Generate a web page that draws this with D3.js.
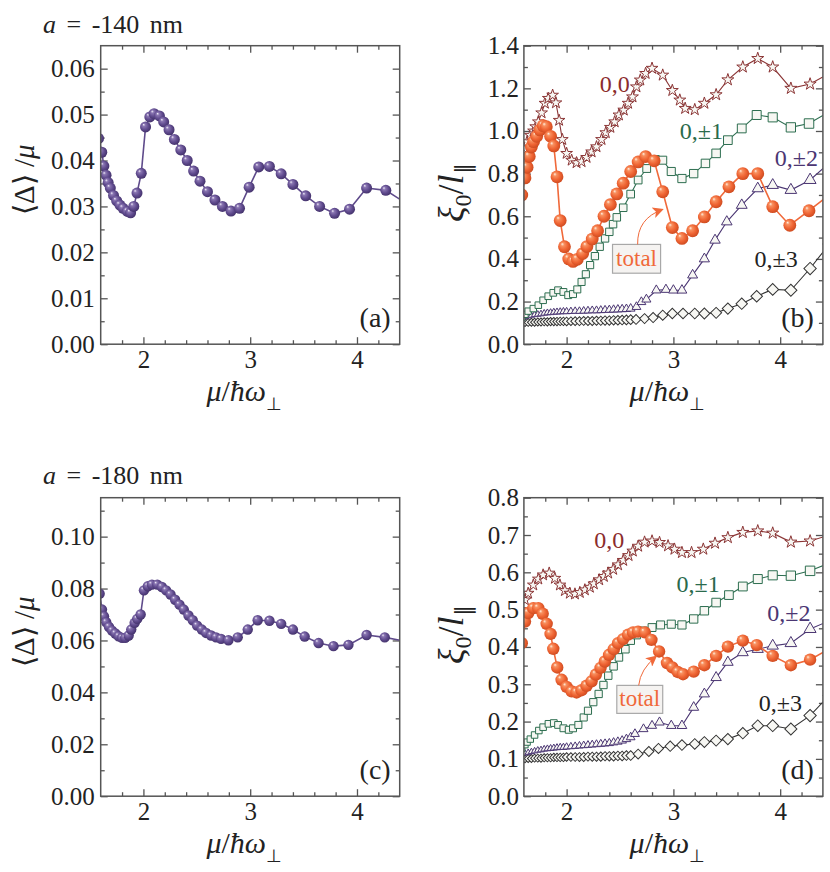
<!DOCTYPE html>
<html>
<head>
<meta charset="utf-8">
<script src="https://cdn.jsdelivr.net/npm/d3@7"></script>
<style>
  body { margin: 0; background: #fff; }
  svg text { font-family: "Liberation Serif", "Times New Roman", serif; fill: #222; }
</style>
</head>
<body>
<svg id="fig" width="830" height="872"></svg>
<script>
'use strict';

// ---- data ---------------------------------------------------------------

// axis ticks
var xMajor = [2, 3, 4];
var yMajorA = [0, 0.01, 0.02, 0.03, 0.04, 0.05, 0.06];
var yMajorB = [0, 0.2, 0.4, 0.6, 0.8, 1.0, 1.2, 1.4];
var yMajorC = [0, 0.02, 0.04, 0.06, 0.08, 0.10];
var yMajorD = [0, 0.1, 0.2, 0.3, 0.4, 0.5, 0.6, 0.7, 0.8];

// panel (a): a = -140 nm, gap
var muA = [1.58, 1.61, 1.63, 1.65, 1.67, 1.69, 1.72, 1.75, 1.78, 1.81,
           1.85, 1.88, 1.91, 1.94, 1.98, 2.02, 2.06, 2.10, 2.15, 2.19,
           2.24, 2.29, 2.35, 2.41, 2.47, 2.53, 2.60, 2.67, 2.74, 2.82,
           2.90, 2.99, 3.08, 3.18, 3.29, 3.40, 3.52, 3.65, 3.79, 3.93,
           4.09, 4.27, 4.46];
var gapA = [0.0448, 0.0418, 0.0388, 0.0368, 0.0352, 0.0340, 0.0324, 0.0312, 0.0303, 0.0296,
            0.0289, 0.0286, 0.0300, 0.0329, 0.0372, 0.0473, 0.0495, 0.0502, 0.0497, 0.0484,
            0.0467, 0.0446, 0.0423, 0.0400, 0.0377, 0.0355, 0.0332, 0.0314, 0.0300, 0.0290,
            0.0296, 0.0342, 0.0386, 0.0387, 0.0371, 0.0348, 0.0323, 0.0300, 0.0285, 0.0294,
            0.0340, 0.0335, 0.0307];

// panel (b): a = -140 nm, coherence length
var totalB = [0.70, 0.78, 0.83, 0.88, 0.925, 0.95, 0.975, 1.005, 1.025, 1.02,
              0.975, 0.93, 0.785, 0.58, 0.457, 0.40, 0.388, 0.398, 0.425, 0.458,
              0.493, 0.532, 0.60, 0.655, 0.705, 0.755, 0.81, 0.855, 0.88, 0.86,
              0.715, 0.547, 0.496, 0.532, 0.597, 0.668, 0.738, 0.80, 0.80, 0.645,
              0.558, 0.626, 0.70];

var muStarB = [1.57, 1.60, 1.63, 1.66, 1.69, 1.71, 1.735, 1.766, 1.797, 1.828,
               1.869, 1.90, 1.93, 1.96, 2.0, 2.047, 2.093, 2.14, 2.187, 2.234,
               2.28, 2.327, 2.367, 2.41, 2.45, 2.49, 2.535, 2.576, 2.617, 2.654,
               2.69, 2.74, 2.8, 2.9, 2.99, 3.06, 3.11, 3.2, 3.29, 3.4,
               3.51, 3.65, 3.79, 3.93, 4.1, 4.28, 4.46];
var band00B = [0.88, 0.92, 0.95, 0.98, 1.0, 1.02, 1.043, 1.085, 1.13, 1.153,
               1.168, 1.132, 1.05, 0.96, 0.895, 0.863, 0.851, 0.856, 0.876, 0.902,
               0.926, 0.96, 0.992, 1.017, 1.043, 1.075, 1.098, 1.13, 1.16, 1.207,
               1.239, 1.27, 1.294, 1.262, 1.19, 1.145, 1.106, 1.10, 1.13, 1.17,
               1.24, 1.30, 1.34, 1.30, 1.20, 1.22, 1.27];

var muSquareB = [1.58, 1.61, 1.64, 1.688, 1.735, 1.78, 1.828, 1.875, 1.92, 1.97,
                 2.015, 2.06, 2.1, 2.14, 2.18, 2.22, 2.265, 2.31, 2.36, 2.4,
                 2.435, 2.47, 2.53, 2.6, 2.67, 2.75, 2.83, 2.9, 2.98, 3.08,
                 3.19, 3.3, 3.4, 3.51, 3.64, 3.78, 3.93, 4.1, 4.27, 4.46];
var band01B = [0.125, 0.14, 0.155, 0.167, 0.183, 0.206, 0.225, 0.241, 0.253, 0.245,
               0.23, 0.235, 0.257, 0.292, 0.328, 0.371, 0.413, 0.457, 0.496, 0.527,
               0.563, 0.595, 0.64, 0.704, 0.77, 0.824, 0.866, 0.863, 0.81, 0.777,
               0.80, 0.848, 0.895, 0.957, 1.012, 1.075, 1.064, 1.017, 1.035, 1.09];

// dense low-mu points shared by the 0,+-2 and 0,+-3 curves
var muDense = [1.58, 1.61, 1.64, 1.67, 1.70, 1.73, 1.76, 1.79, 1.82, 1.85,
               1.88, 1.91, 1.94, 1.97, 2.00, 2.04, 2.08, 2.12, 2.16, 2.20,
               2.24, 2.28, 2.32, 2.36, 2.40, 2.44, 2.48, 2.52, 2.56, 2.60];

var muTriB = muDense.concat([2.654, 2.70, 2.747, 2.84, 2.93, 3.0, 3.08, 3.18, 3.29, 3.39,
                             3.50, 3.64, 3.79, 3.93, 4.10, 4.28, 4.46]);
var band02B = [0.124, 0.128, 0.132, 0.135, 0.138, 0.140, 0.142, 0.145, 0.147, 0.148,
               0.150, 0.151, 0.152, 0.153, 0.153, 0.154, 0.155, 0.155, 0.156, 0.157,
               0.158, 0.158, 0.159, 0.160, 0.161, 0.162, 0.163, 0.164, 0.165, 0.167,
               0.175, 0.198, 0.21, 0.253, 0.256, 0.253, 0.253, 0.324, 0.40, 0.488,
               0.574, 0.652, 0.73, 0.746, 0.723, 0.77, 0.85];

var muDiaB = muDense.concat([2.65, 2.73, 2.81, 2.9, 2.99, 3.09, 3.2, 3.29, 3.4, 3.51,
                             3.64, 3.78, 3.93, 4.1, 4.28, 4.46]);
var band03B = [0.100, 0.101, 0.102, 0.103, 0.103, 0.104, 0.104, 0.105, 0.105, 0.106,
               0.106, 0.106, 0.107, 0.107, 0.107, 0.108, 0.108, 0.108, 0.109, 0.109,
               0.109, 0.110, 0.110, 0.111, 0.111, 0.112, 0.112, 0.113, 0.114, 0.115,
               0.116, 0.12, 0.125, 0.136, 0.144, 0.144, 0.144, 0.144, 0.147, 0.167,
               0.19, 0.225, 0.257, 0.253, 0.355, 0.47];

// panel (c): a = -180 nm, gap
var muC = [1.59, 1.612, 1.631, 1.652, 1.678, 1.706, 1.737, 1.768, 1.80, 1.83,
           1.862, 1.886, 1.918, 1.942, 1.974, 2.005, 2.042, 2.08, 2.13, 2.173,
           2.213, 2.254, 2.297, 2.338, 2.378, 2.422, 2.462, 2.503, 2.547, 2.587,
           2.634, 2.68, 2.727, 2.796, 2.883, 2.977, 3.07, 3.18, 3.29, 3.40,
           3.51, 3.64, 3.78, 3.92, 4.09, 4.26, 4.45];
var gapC = [0.0780, 0.0719, 0.0693, 0.0670, 0.0652, 0.0638, 0.0627, 0.0616, 0.0610, 0.0610,
            0.0619, 0.0642, 0.0668, 0.0683, 0.0700, 0.0793, 0.0809, 0.0815, 0.0815, 0.0806,
            0.0793, 0.0777, 0.0757, 0.0738, 0.0719, 0.0696, 0.0678, 0.0657, 0.0642, 0.0629,
            0.0619, 0.0612, 0.0606, 0.0601, 0.0612, 0.0642, 0.0678, 0.0676, 0.0664, 0.0642,
            0.0615, 0.0590, 0.0578, 0.0583, 0.0621, 0.0612, 0.0597];

// panel (d): a = -180 nm, coherence length
var muTotalD = [1.58, 1.61, 1.641, 1.688, 1.735, 1.776, 1.813, 1.85, 1.875, 1.912,
                1.953, 2.0, 2.047, 2.093, 2.14, 2.187, 2.234, 2.274, 2.318, 2.358,
                2.398, 2.442, 2.482, 2.53, 2.576, 2.622, 2.669, 2.732, 2.794, 2.866,
                2.94, 2.99, 3.04, 3.09, 3.19, 3.29, 3.40, 3.51, 3.65, 3.78,
                3.93, 4.10, 4.28, 4.46];
var totalD = [0.41, 0.468, 0.491, 0.504, 0.504, 0.489, 0.462, 0.435, 0.395, 0.345,
              0.312, 0.293, 0.281, 0.278, 0.284, 0.296, 0.308, 0.326, 0.344, 0.361,
              0.379, 0.394, 0.41, 0.421, 0.433, 0.439, 0.441, 0.439, 0.419, 0.388,
              0.357, 0.345, 0.333, 0.327, 0.334, 0.351, 0.376, 0.401, 0.417, 0.405,
              0.376, 0.351, 0.366, 0.395];

var muStarD = [1.57, 1.61, 1.64, 1.688, 1.735, 1.78, 1.837, 1.89, 1.937, 1.984,
               2.03, 2.078, 2.124, 2.171, 2.218, 2.255, 2.305, 2.349, 2.389, 2.436,
               2.482, 2.53, 2.58, 2.62, 2.67, 2.73, 2.8, 2.87, 2.95, 3.01,
               3.08, 3.17, 3.28, 3.39, 3.51, 3.65, 3.79, 3.93, 4.1, 4.28,
               4.46];
var band00D = [0.50, 0.526, 0.544, 0.566, 0.582, 0.593, 0.598, 0.584, 0.566, 0.551,
               0.544, 0.542, 0.546, 0.553, 0.56, 0.569, 0.58, 0.589, 0.598, 0.608,
               0.62, 0.632, 0.645, 0.657, 0.67, 0.681, 0.684, 0.68, 0.671, 0.662,
               0.653, 0.653, 0.662, 0.678, 0.693, 0.707, 0.711, 0.705, 0.681, 0.684,
               0.70];

var muSquareD = [1.58, 1.61, 1.63, 1.66, 1.7, 1.74, 1.78, 1.83, 1.88, 1.92,
                 1.97, 2.02, 2.06, 2.11, 2.16, 2.2, 2.25, 2.3, 2.345, 2.39,
                 2.44, 2.49, 2.55, 2.6, 2.655, 2.72, 2.8, 2.88, 2.98, 3.08,
                 3.19, 3.29, 3.4, 3.52, 3.65, 3.79, 3.93, 4.1, 4.28, 4.46];
var band01D = [0.128, 0.138, 0.145, 0.153, 0.164, 0.176, 0.185, 0.194, 0.196, 0.191,
               0.182, 0.178, 0.182, 0.191, 0.211, 0.229, 0.252, 0.274, 0.298, 0.323,
               0.348, 0.372, 0.394, 0.417, 0.432, 0.443, 0.452, 0.459, 0.461, 0.459,
               0.475, 0.497, 0.519, 0.539, 0.562, 0.582, 0.592, 0.591, 0.604, 0.625];

var muTriD = muDense.concat([2.64, 2.72, 2.8, 2.87, 2.98, 3.08, 3.19, 3.29, 3.4, 3.51,
                             3.65, 3.79, 3.93, 4.1, 4.28, 4.46]);
var band02D = [0.112, 0.115, 0.117, 0.119, 0.121, 0.123, 0.124, 0.126, 0.127, 0.128,
               0.129, 0.130, 0.131, 0.131, 0.132, 0.133, 0.134, 0.135, 0.136, 0.137,
               0.138, 0.139, 0.140, 0.141, 0.142, 0.144, 0.146, 0.149, 0.153, 0.158,
               0.167, 0.18, 0.189, 0.198, 0.189, 0.189, 0.238, 0.274, 0.318, 0.359,
               0.385, 0.394, 0.403, 0.41, 0.448, 0.47];

var muDiaD = muDense.concat([2.67, 2.77, 2.86, 2.97, 3.08, 3.2, 3.29, 3.4, 3.51, 3.65,
                             3.79, 3.93, 4.1, 4.28, 4.46]);
var band03D = [0.100, 0.100, 0.101, 0.101, 0.102, 0.102, 0.102, 0.103, 0.103, 0.103,
               0.104, 0.104, 0.104, 0.104, 0.105, 0.105, 0.105, 0.105, 0.105, 0.106,
               0.106, 0.106, 0.106, 0.107, 0.107, 0.107, 0.108, 0.108, 0.109, 0.109,
               0.113, 0.12, 0.128, 0.134, 0.137, 0.14, 0.145, 0.149, 0.153, 0.169,
               0.189, 0.189, 0.18, 0.216, 0.27];

// ---- drawing --------------------------------------------------------------

var svg = d3.select('#fig');
var defs = svg.append('defs');

var panelW = 299, panelH = 298.5;
var xDomain = [1.6, 4.4];
var frameColor = '#555';
var tickFont = 25;

var purple = '#5f4b8b', orange = '#f0693a';
var cStar = '#8b3535', cSquare = '#2d6e50', cTri = '#4b3673', cDia = '#333';
var openFill = '#f7f7f3';

function sphereGradient(id, stops) {
    var grad = defs.append('radialGradient').attr('id', id)
        .attr('cx', '45%').attr('cy', '45%').attr('r', '60%')
        .attr('fx', '32%').attr('fy', '28%');
    stops.forEach(function(s) {
        grad.append('stop').attr('offset', s[0]).attr('stop-color', s[1]);
    });
}
sphereGradient('gPurple', [['0%', '#f2eefa'], ['22%', '#8a76b2'], ['60%', '#604b8e'], ['100%', '#3f2e66']]);
sphereGradient('gOrange', [['0%', '#fff1e4'], ['22%', '#f8905f'], ['60%', '#ef6433'], ['100%', '#c9471d']]);

defs.append('marker').attr('id', 'arrowHead')
    .attr('viewBox', '0 0 10 10').attr('refX', 9).attr('refY', 5)
    .attr('markerUnits', 'userSpaceOnUse')
    .attr('markerWidth', 15).attr('markerHeight', 11)
    .attr('orient', 'auto')
  .append('path').attr('d', 'M0,0 L10,5 L0,10 L2.5,5 z').attr('fill', orange);

function minorValues(start, stop, step) {
    return d3.range(start, stop + step / 10, step);
}
var xMinor = minorValues(1.8, 4.2, 0.2).filter(function(v) {
    return Math.abs(v - Math.round(v)) > 0.01;
});

function styleAxis(a) {
    a.select('.domain').remove();
    a.selectAll('line').attr('stroke', frameColor).attr('stroke-width', 1.3);
    a.attr('font-size', tickFont);
    return a;
}

function buildPanel(opt) {
    var g = svg.append('g').attr('transform', 'translate(' + opt.left + ',' + opt.top + ')');
    var x = d3.scaleLinear().domain(xDomain).range([0, panelW]);
    var y = d3.scaleLinear().domain(opt.yDomain).range([panelH, 0]);

    // ticks point inward on all four sides
    styleAxis(g.append('g').attr('transform', 'translate(0,' + panelH + ')')
        .call(d3.axisBottom(x).tickValues(xMajor).tickSize(-7).tickPadding(6)
              .tickSizeOuter(0).tickFormat(d3.format('d'))));
    styleAxis(g.append('g').attr('transform', 'translate(0,' + panelH + ')')
        .call(d3.axisBottom(x).tickValues(xMinor).tickSize(-4).tickFormat('')));
    styleAxis(g.append('g')
        .call(d3.axisTop(x).tickValues(xMajor).tickSize(-7).tickFormat('')));
    styleAxis(g.append('g')
        .call(d3.axisTop(x).tickValues(xMinor).tickSize(-4).tickFormat('')));

    styleAxis(g.append('g')
        .call(d3.axisLeft(y).tickValues(opt.yMajor).tickSize(-7).tickPadding(opt.yPad)
              .tickSizeOuter(0).tickFormat(d3.format(opt.yFormat))));
    styleAxis(g.append('g')
        .call(d3.axisLeft(y).tickValues(opt.yMinor).tickSize(-4).tickFormat('')));
    styleAxis(g.append('g').attr('transform', 'translate(' + panelW + ',0)')
        .call(d3.axisRight(y).tickValues(opt.yMajor).tickSize(-7).tickFormat('')));
    styleAxis(g.append('g').attr('transform', 'translate(' + panelW + ',0)')
        .call(d3.axisRight(y).tickValues(opt.yMinor).tickSize(-4).tickFormat('')));

    var clipId = 'clip-' + opt.letter;
    defs.append('clipPath').attr('id', clipId)
        .append('rect').attr('width', panelW).attr('height', panelH);
    var plot = g.append('g').attr('clip-path', 'url(#' + clipId + ')');

    return { g: g, plot: plot, x: x, y: y };
}

function finishPanel(p, letter) {
    p.g.append('rect').attr('width', panelW).attr('height', panelH)
        .attr('fill', 'none').attr('stroke', frameColor).attr('stroke-width', 1.5);
    p.g.append('text').attr('x', panelW - 9).attr('y', panelH - 17)
        .attr('text-anchor', 'end').attr('font-size', 28).text('(' + letter + ')');

    var xl = p.g.append('text').attr('x', panelW / 2 - 6).attr('y', panelH + 57)
        .attr('text-anchor', 'middle').attr('font-size', 30);
    xl.append('tspan').attr('font-style', 'italic').text('\u03bc');
    xl.append('tspan').text('/');
    xl.append('tspan').attr('font-style', 'italic').text('\u0127\u03c9');
    xl.append('tspan').attr('font-size', 18).attr('dy', 9).text('\u22a5');
}

function drawLine(p, xs, ys, color, width) {
    var line = d3.line().x(function(d) { return p.x(d[0]); }).y(function(d) { return p.y(d[1]); });
    p.plot.append('path').datum(d3.zip(xs, ys))
        .attr('d', line).attr('fill', 'none')
        .attr('stroke', color).attr('stroke-width', width);
}

function drawSpheres(p, xs, ys, color, grad, r) {
    drawLine(p, xs, ys, color, 1.6);
    p.plot.append('g').selectAll('circle').data(d3.zip(xs, ys)).enter().append('circle')
        .attr('cx', function(d) { return p.x(d[0]); })
        .attr('cy', function(d) { return p.y(d[1]); })
        .attr('r', r).attr('fill', 'url(#' + grad + ')');
}

function drawOpen(p, xs, ys, color, type, sizes) {
    drawLine(p, xs, ys, color, 1.1);
    var size = d3.scaleLinear().domain(xDomain).range(sizes).clamp(true);
    var shape = { star: d3.symbolStar, square: d3.symbolSquare,
                  triangle: d3.symbolTriangle, diamond: d3.symbolSquare }[type];
    var turn = type === 'diamond' ? 45 : 0;
    p.plot.append('g').selectAll('path').data(d3.zip(xs, ys)).enter().append('path')
        .attr('d', function(d) { return d3.symbol().type(shape).size(size(d[0]))(); })
        .attr('transform', function(d) {
            return 'translate(' + p.x(d[0]) + ',' + p.y(d[1]) + ') rotate(' + turn + ')';
        })
        .attr('fill', openFill).attr('stroke', color).attr('stroke-width', 1);
}

function gapLabel(p, cy) {
    var t = p.g.append('text').attr('transform', 'translate(-67,' + cy + ') rotate(-90)')
        .attr('text-anchor', 'middle').attr('font-size', 29);
    t.append('tspan').text('\u27e8\u0394\u27e9 /');
    t.append('tspan').attr('font-style', 'italic').text('\u03bc');
}

function xiLabel(p, cy) {
    var t = p.g.append('text').attr('transform', 'translate(-61,' + cy + ') rotate(-90)')
        .attr('text-anchor', 'middle').attr('font-size', 36);
    t.append('tspan').attr('font-style', 'italic').text('\u03be');
    t.append('tspan').attr('font-size', 24).attr('dy', 8).text('0');
    t.append('tspan').attr('dy', -8).text('/');
    t.append('tspan').attr('font-style', 'italic').text('l');
    t.append('tspan').attr('font-size', 22).attr('dy', 8).text('\u2225');
}

function bandLabel(p, xv, yv, color, txt) {
    p.g.append('text').attr('x', p.x(xv)).attr('y', p.y(yv))
        .attr('font-size', 24).style('fill', color).text(txt);
}

function totalBox(p, box, tail, ctrl, tip) {
    p.g.append('rect')
        .attr('x', p.x(box[0])).attr('y', p.y(box[3]))
        .attr('width', p.x(box[1]) - p.x(box[0])).attr('height', p.y(box[2]) - p.y(box[3]))
        .attr('fill', '#f5f3f1').attr('stroke', '#a8a8a8').attr('stroke-width', 1.2);
    p.g.append('text').attr('x', (p.x(box[0]) + p.x(box[1])) / 2).attr('y', p.y(box[2]) - 7)
        .attr('text-anchor', 'middle').attr('font-size', 23).style('fill', orange).text('total');
    var path = d3.path();
    path.moveTo(p.x(tail[0]), p.y(tail[1]));
    path.quadraticCurveTo(p.x(ctrl[0]), p.y(ctrl[1]), p.x(tip[0]), p.y(tip[1]));
    p.g.append('path').attr('d', path.toString()).attr('fill', 'none')
        .attr('stroke', orange).attr('stroke-width', 1).attr('marker-end', 'url(#arrowHead)');
}

function title(xp, yp, value) {
    var t = svg.append('text').attr('x', xp).attr('y', yp)
        .attr('font-size', 26).attr('word-spacing', 4);
    t.append('tspan').attr('font-style', 'italic').text('a');
    t.append('tspan').text(' = -' + value + ' nm');
}

// (a)
var pa = buildPanel({ left: 100.7, top: 45.7, letter: 'a', yDomain: [0, 0.065],
    yMajor: yMajorA, yMinor: minorValues(0.005, 0.055, 0.01), yFormat: '.2f', yPad: 6 });
drawSpheres(pa, muA, gapA, purple, 'gPurple', 5.5);
finishPanel(pa, 'a');
gapLabel(pa, 134);
title(43, 33, 140);

// (b)
var pb = buildPanel({ left: 523.9, top: 45.7, letter: 'b', yDomain: [0, 1.4],
    yMajor: yMajorB, yMinor: minorValues(0.1, 1.3, 0.2), yFormat: '.1f', yPad: 5 });
drawOpen(pb, muDiaB, band03B, cDia, 'diamond', [30, 78]);
drawOpen(pb, muTriB, band02B, cTri, 'triangle', [16, 64]);
drawOpen(pb, muSquareB, band01B, cSquare, 'square', [40, 92]);
drawOpen(pb, muStarB, band00B, cStar, 'star', [42, 46]);
drawSpheres(pb, muA, totalB, orange, 'gOrange', 6.4);
finishPanel(pb, 'b');
xiLabel(pb, 147);
bandLabel(pb, 2.31, 1.183, '#8b2c2c', '0,0');
bandLabel(pb, 3.06, 0.962, '#2a6a4c', '0,\u00b11');
bandLabel(pb, 3.95, 0.835, '#4b3673', '0,\u00b12');
bandLabel(pb, 3.76, 0.361, '#222', '0,\u00b13');
totalBox(pb, [2.43, 2.88, 0.333, 0.468], [2.665, 0.468], [2.66, 0.59], [2.9, 0.632]);

// (c)
var pc = buildPanel({ left: 100.7, top: 497.7, letter: 'c', yDomain: [0, 0.115],
    yMajor: yMajorC, yMinor: minorValues(0.01, 0.11, 0.02), yFormat: '.2f', yPad: 6 });
drawSpheres(pc, muC, gapC, purple, 'gPurple', 5.2);
finishPanel(pc, 'c');
gapLabel(pc, 134);
title(43, 484, 180);

// (d)
var pd = buildPanel({ left: 523.9, top: 497.7, letter: 'd', yDomain: [0, 0.8],
    yMajor: yMajorD, yMinor: minorValues(0.05, 0.75, 0.1), yFormat: '.1f', yPad: 5 });
drawOpen(pd, muDiaD, band03D, cDia, 'diamond', [30, 78]);
drawOpen(pd, muTriD, band02D, cTri, 'triangle', [16, 64]);
drawOpen(pd, muSquareD, band01D, cSquare, 'square', [40, 92]);
drawOpen(pd, muStarD, band00D, cStar, 'star', [42, 46]);
drawSpheres(pd, muTotalD, totalD, orange, 'gOrange', 6.2);
finishPanel(pd, 'd');
xiLabel(pd, 137);
bandLabel(pd, 2.26, 0.666, '#8b2c2c', '0,0');
bandLabel(pd, 3.03, 0.546, '#2a6a4c', '0,\u00b11');
bandLabel(pd, 3.88, 0.47, '#4b3673', '0,\u00b12');
bandLabel(pd, 3.80, 0.229, '#222', '0,\u00b13');
totalBox(pd, [2.47, 2.90, 0.222, 0.297], [2.675, 0.297], [2.69, 0.34], [2.84, 0.375]);
</script>
</body>
</html>
